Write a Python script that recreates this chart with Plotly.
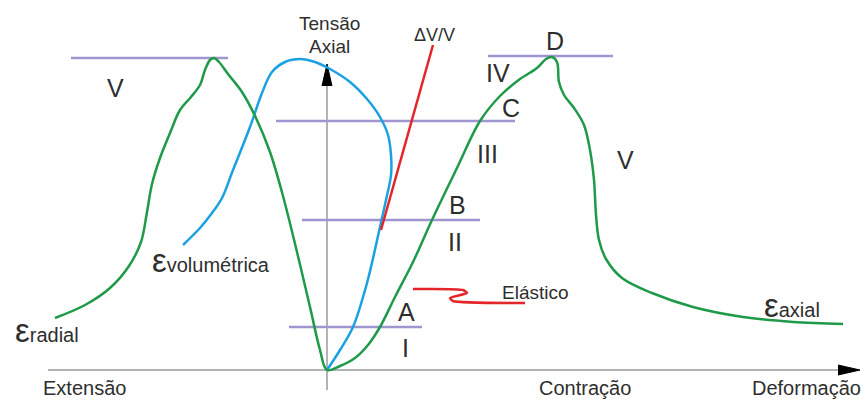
import plotly.graph_objects as go

# Schematic coordinates (pixel-like units, y downward)
green_x = [55, 85, 110, 129, 141, 147, 152, 160, 170, 180, 191, 200, 205, 210, 214, 219, 228, 242, 256, 270, 283, 297, 310, 320, 327,
           340, 355, 368, 380, 395, 413, 432, 457, 480, 500, 520, 537, 546, 552, 557, 559, 564, 574, 584, 590, 594, 596, 599, 606, 622, 652, 693, 743, 793, 843]
green_y = [318, 305, 288, 266, 242, 212, 184, 158, 133, 110, 97, 85, 70, 60, 58, 62, 74, 92, 118, 152, 196, 252, 307, 350, 370,
           366, 358, 345, 327, 297, 262, 220, 168, 121, 96, 79, 68, 59, 57, 62, 82, 95, 108, 125, 150, 180, 215, 240, 259, 278, 293, 307, 317, 322, 324]

blue_x = [183, 200, 212, 222, 233, 250, 262, 272, 285, 300, 315, 330, 350, 367, 380, 388, 391, 391, 386, 380, 367, 353, 340, 327]
blue_y = [245, 228, 213, 198, 170, 127, 93, 72, 62, 59, 62, 69, 82, 99, 117, 135, 155, 175, 200, 227, 283, 327, 350, 370]

red_x = [433, 381]
red_y = [45, 230]

squiggle_x = [413, 463, 467, 450, 453, 525]
squiggle_y = [289, 290, 293, 298, 301, 303]

level_y = [58, 56, 121, 220, 327]
level_x0 = [71, 488, 276, 302, 289]
level_x1 = [228, 613, 515, 480, 422]

origin = (327, 370)
h_axis_x = [48, 840]
v_axis_y = [390, 84]
h_arrow_x = [838, 860, 838]
h_arrow_y = [365, 370, 375]
v_arrow_x = [322, 327, 332]
v_arrow_y = [86, 64, 86]

labels = ["V", "D", "IV", "C", "III", "V", "B", "II", "A", "I"]
label_x = [115, 555, 498, 511, 487, 625, 457, 455, 406, 405]
label_y = [88, 41, 73, 108, 154, 160, 205, 242, 312, 348]

GREEN = "#1f9a48"
BLUE = "#1ba1e2"
RED = "#e4262b"
PURPLE = "#9f95d0"
AXIS = "#9a9a9a"
TEXT = "#2e2e2e"
FONT = "Liberation Sans, Arial, sans-serif"

fig = go.Figure()

# axes
fig.add_trace(go.Scatter(x=h_axis_x, y=[origin[1]] * 2, mode="lines",
                         line=dict(color=AXIS, width=1.5), hoverinfo="skip"))
fig.add_trace(go.Scatter(x=[origin[0]] * 2, y=v_axis_y, mode="lines",
                         line=dict(color=AXIS, width=1.5), hoverinfo="skip"))
fig.add_trace(go.Scatter(x=h_arrow_x, y=h_arrow_y, mode="lines", fill="toself",
                         fillcolor="black", line=dict(color="black", width=1), hoverinfo="skip"))
fig.add_trace(go.Scatter(x=v_arrow_x, y=v_arrow_y, mode="lines", fill="toself",
                         fillcolor="black", line=dict(color="black", width=1), hoverinfo="skip"))

# level lines
for y, x0, x1 in zip(level_y, level_x0, level_x1):
    fig.add_trace(go.Scatter(x=[x0, x1], y=[y, y], mode="lines",
                             line=dict(color=PURPLE, width=2.5), hoverinfo="skip"))

# curves
fig.add_trace(go.Scatter(x=blue_x, y=blue_y, mode="lines",
                         line=dict(color=BLUE, width=2.5, shape="spline", smoothing=1.0), hoverinfo="skip"))
fig.add_trace(go.Scatter(x=green_x, y=green_y, mode="lines",
                         line=dict(color=GREEN, width=2.5, shape="spline", smoothing=1.0), hoverinfo="skip"))
fig.add_trace(go.Scatter(x=red_x, y=red_y, mode="lines",
                         line=dict(color=RED, width=2.5), hoverinfo="skip"))
fig.add_trace(go.Scatter(x=squiggle_x, y=squiggle_y, mode="lines",
                         line=dict(color=RED, width=2.5, shape="spline", smoothing=0.6), hoverinfo="skip"))

def txt(x, y, s, size, anchor="center"):
    fig.add_annotation(x=x, y=y, text=s, showarrow=False, xanchor=anchor, yanchor="middle",
                       font=dict(family=FONT, size=size, color=TEXT))

for s, x, y in zip(labels, label_x, label_y):
    txt(x, y, s, 25)

txt(329, 23, "Tensão", 19)
txt(329, 46, "Axial", 19)
txt(434, 35, "ΔV/V", 18)
txt(535, 292, "Elástico", 19)
txt(84, 388, "Extensão", 20)
txt(585, 388, "Contração", 20)
txt(806, 388, "Deformação", 20)
txt(150, 260, "<span style='font-size:33px'>ε</span>volumétrica", 20, "left")
txt(13, 330, "<span style='font-size:33px'>ε</span>radial", 20, "left")
txt(762, 305, "<span style='font-size:33px'>ε</span>axial", 20, "left")

fig.update_layout(
    width=865, height=403,
    margin=dict(l=0, r=0, t=0, b=0),
    paper_bgcolor="white", plot_bgcolor="white",
    showlegend=False,
    xaxis=dict(range=[0, 865], visible=False, fixedrange=True),
    yaxis=dict(range=[403, 0], visible=False, fixedrange=True),
)

fig.write_html("out.html", config={"displayModeBar": False},
               post_script="document.body.style.margin='0';document.body.style.overflow='hidden';")
